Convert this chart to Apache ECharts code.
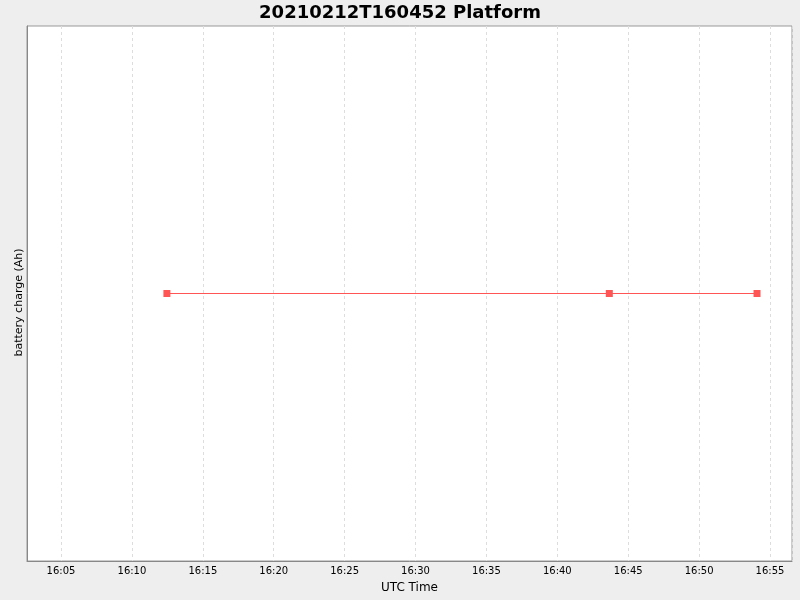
<!DOCTYPE html>
<html>
<head>
<meta charset="utf-8">
<script src="https://cdn.jsdelivr.net/npm/echarts@6/dist/echarts.min.js"></script>
<style>
  html, body { margin: 0; padding: 0; background: #eeeeee; }
  #chart { width: 800px; height: 600px; }
</style>
</head>
<body>
<div id="chart"></div>
<script>
// 数据
var times = ['2021-02-12T16:12:28Z', '2021-02-12T16:43:40Z', '2021-02-12T16:54:05Z'];
var charge = [1, 1, 1];
var xMin = '2021-02-12T16:02:36Z';
var xMax = '2021-02-12T16:56:33Z';

var chart = echarts.init(document.getElementById('chart'));

var option = {
  useUTC: true,
  backgroundColor: '#eeeeee',
  animation: false,
  title: {
    text: '20210212T160452 Platform',
    left: 'center',
    top: -1,
    textStyle: { fontFamily: 'DejaVu Sans', fontWeight: 'bold', fontSize: 18, color: '#000' }
  },
  grid: {
    left: 27, right: 8, top: 26, bottom: 39,
    containLabel: false,
    outerBoundsMode: 'none',
    show: true, backgroundColor: '#ffffff', borderColor: '#999999', borderWidth: 1
  },
  xAxis: {
    type: 'time',
    min: new Date(xMin).getTime(),
    max: new Date(xMax).getTime(),
    splitNumber: 10,
    name: 'UTC Time',
    nameLocation: 'middle',
    nameGap: 21,
    nameTextStyle: { fontFamily: 'DejaVu Sans', fontSize: 12, color: '#000' },
    axisLine: { lineStyle: { color: '#888888' } },
    axisTick: { show: false },
    axisLabel: {
      formatter: '{HH}:{mm}',
      fontFamily: 'DejaVu Sans', fontSize: 10, color: '#000', margin: 5,
      showMinLabel: false, showMaxLabel: false
    },
    splitLine: { show: true, lineStyle: { color: '#dddddd', type: [3, 3] } }
  },
  yAxis: {
    type: 'value',
    min: 0,
    max: 2,
    name: 'battery charge (Ah)',
    nameLocation: 'middle',
    nameGap: 2,
    nameTextStyle: { fontFamily: 'DejaVu Sans', fontSize: 11, color: '#000', padding: [0, 18, 0, 0] },
    axisLine: { show: true, lineStyle: { color: '#888888' } },
    axisTick: { show: false },
    axisLabel: { show: false },
    splitLine: { show: false }
  },
  series: [{
    type: 'line',
    data: times.map(function (t, i) { return [t, charge[i]]; }),
    symbol: 'rect',
    symbolSize: 7,
    lineStyle: { color: '#ff5555', width: 1 },
    itemStyle: { color: '#ff5555' }
  }]
};

chart.setOption(option);
</script>
</body>
</html>
